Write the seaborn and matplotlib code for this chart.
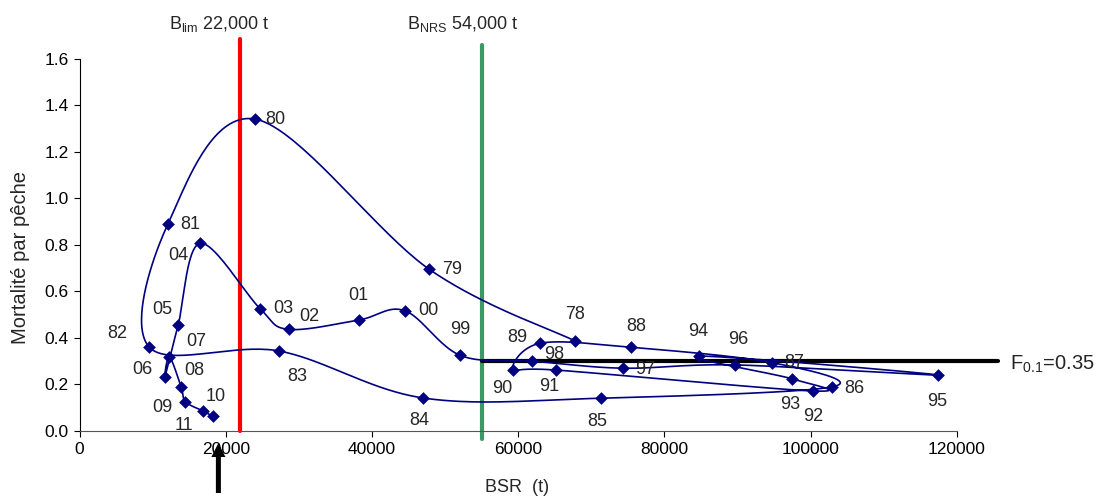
import numpy as np
import pandas as pd
import matplotlib
matplotlib.use('Agg')
import matplotlib.pyplot as plt
from matplotlib.patches import FancyArrow
from matplotlib.transforms import IdentityTransform
import seaborn as sns

# Data: spawning stock biomass (BSR, t) vs fishing mortality
years = ['78', '79', '80', '81', '82', '83', '84', '85', '86', '87', '88', '89',
         '90', '91', '92', '93', '94', '95', '96', '97', '98', '99', '00', '01',
         '02', '03', '04', '05', '06', '07', '08', '09', '10', '11']
bsr = [67800, 47850, 24000, 12100, 9500, 27300, 47000, 71300, 103000, 94700, 75400, 63000,
       59300, 65200, 100300, 97500, 84700, 117400, 89700, 74300, 61900, 52100, 44500, 38200,
       28600, 24700, 16500, 13500, 11700, 12300, 13900, 14500, 16900, 18200]
fmort = [0.387, 0.695, 1.341, 0.890, 0.362, 0.344, 0.142, 0.141, 0.190, 0.294, 0.360, 0.377,
         0.262, 0.262, 0.172, 0.224, 0.322, 0.241, 0.284, 0.270, 0.301, 0.325, 0.517, 0.477,
         0.437, 0.526, 0.807, 0.456, 0.233, 0.319, 0.190, 0.126, 0.086, 0.064]

b_lim = 22000
b_nrs = 55000
f01_level = 0.30
f01_xrange = [55000, 125600]
arrow_x = 19000

x_ticks = [0, 20000, 40000, 60000, 80000, 100000, 120000]
y_ticks = [0.0, 0.2, 0.4, 0.6, 0.8, 1.0, 1.2, 1.4, 1.6]

# label offsets from each marker, in pixels (right, down)
label_offsets = {
    '78': (0, -26), '79': (23, 0), '80': (20, 0), '81': (22, 1), '82': (-32, -13),
    '83': (18, 26), '84': (-4, 23), '85': (-3, 23), '86': (22, 2), '87': (22, 0),
    '88': (6, -21), '89': (-23, -6), '90': (-11, 18), '91': (-7, 16), '92': (0, 26),
    '93': (-2, 26), '94': (0, -25), '95': (-1, 27), '96': (3, -25), '97': (22, 1),
    '98': (22, -6), '99': (0, -26), '00': (24, 0), '01': (0, -25), '02': (21, -13),
    '03': (23, 0), '04': (-22, 12), '05': (-16, -15), '06': (-23, -7), '07': (27, -15),
    '08': (13, -16), '09': (-23, 6), '10': (13, -14), '11': (-29, 9),
}

df = pd.DataFrame({'year': years, 'bsr': bsr, 'f': fmort})

sns.set_style('white')
plt.rcParams['font.family'] = ['Liberation Sans', 'DejaVu Sans']
plt.rcParams['mathtext.fontset'] = 'custom'
plt.rcParams['mathtext.rm'] = 'Liberation Sans'
plt.rcParams['mathtext.it'] = 'Liberation Sans'

navy = '#000080'
W, H = 1099, 499
fig = plt.figure(figsize=(W / 100, H / 100), dpi=100)
ax = fig.add_axes([79.5 / W, 68 / H, 877.2 / W, 372.2 / H])
ax.set_xlim(0, 120000)
ax.set_ylim(0, 1.6)


def smooth_path(pts, n=40):
    # Excel-like smoothed line: Bezier segments with Catmull-Rom tangents
    p = np.vstack([pts[0], pts, pts[-1]])
    out = []
    t = np.linspace(0, 1, n)[:, None]
    for i in range(1, len(p) - 2):
        p0, p1, p2, p3 = p[i - 1], p[i], p[i + 1], p[i + 2]
        c1 = p1 + (p2 - p0) / 6
        c2 = p2 - (p3 - p1) / 6
        seg = (1 - t) ** 3 * p1 + 3 * (1 - t) ** 2 * t * c1 + 3 * (1 - t) * t ** 2 * c2 + t ** 3 * p2
        out.append(seg)
    return np.vstack(out)


pix = ax.transData.transform(df[['bsr', 'f']].to_numpy())
curve = ax.transData.inverted().transform(smooth_path(pix))
ax.plot(curve[:, 0], curve[:, 1], color=navy, lw=1.2, zorder=3)

sns.scatterplot(data=df, x='bsr', y='f', marker='D', s=42, color=navy,
                edgecolor=navy, linewidth=0, ax=ax, zorder=4, clip_on=False)

for yr, xv, yv in zip(years, bsr, fmort):
    dx, dy = label_offsets[yr]
    ax.annotate(yr, (xv, yv), xytext=(dx, -dy), textcoords='offset pixels',
                ha='center', va='center', fontsize=13, annotation_clip=False, zorder=5)

# reference lines
ax.plot([b_lim, b_lim], [0.0, 1.685], color='#ff0000', lw=3, clip_on=False, zorder=2)
ax.plot([b_nrs, b_nrs], [-0.034, 1.66], color='#3a9a66', lw=3, clip_on=False, zorder=2)
ax.plot(f01_xrange, [f01_level, f01_level], color='black', lw=3, clip_on=False, zorder=2)

fig.text(219 / W, 1 - 24 / H, r'$\mathregular{B_{lim}}$ 22,000 t', ha='center', va='center', fontsize=13)
fig.text(463 / W, 1 - 24 / H, r'$\mathregular{B_{NRS}}$ 54,000 t', ha='center', va='center', fontsize=13)
fig.text(1010 / W, 1 - 364 / H, r'$\mathregular{F_{0.1}}$=0.35', ha='left', va='center', fontsize=14.5)

# arrow under the x axis pointing up at the current biomass (drawn in pixels)
arrow_px = ax.transData.transform((arrow_x, 0))[0]
fig.add_artist(FancyArrow(arrow_px, H - 493, 0, 50, width=5, head_width=14, head_length=14,
                          length_includes_head=True, color='black', lw=0,
                          transform=IdentityTransform(), zorder=6))

ax.set_xticks(x_ticks)
ax.set_xticklabels([str(v) for v in x_ticks])
ax.set_yticks(y_ticks)
ax.set_yticklabels([f'{v:.1f}' for v in y_ticks])
ax.tick_params(direction='out', length=4, width=0.8, colors='black', labelsize=12.5, pad=4,
               left=True, bottom=True)
sns.despine(ax=ax)
ax.spines['left'].set_color('black')
ax.spines['bottom'].set_color('#555555')
ax.spines['left'].set_linewidth(0.8)
ax.spines['bottom'].set_linewidth(0.8)

ax.set_xlabel('BSR  (t)', fontsize=13)
ax.set_ylabel('Mortalité par pêche', fontsize=14.5)
ax.xaxis.set_label_coords(0.499, -0.128)
ax.yaxis.set_label_coords(-0.056, 0.465)

fig.savefig('out.png', dpi=100)
